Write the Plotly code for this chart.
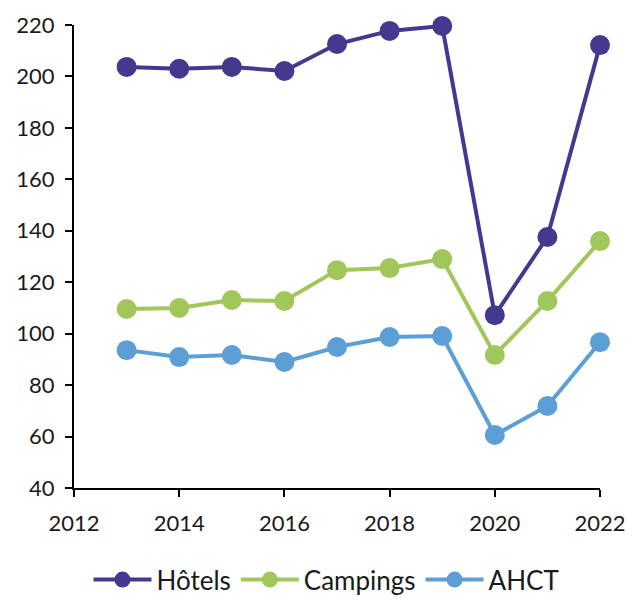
import plotly.graph_objects as go

years = [2013, 2014, 2015, 2016, 2017, 2018, 2019, 2020, 2021, 2022]
hotels = [203.7, 203.0, 203.7, 202.1, 212.6, 217.7, 219.6, 107.2, 137.6, 212.2]
campings = [109.6, 110.0, 113.1, 112.7, 124.7, 125.5, 129.0, 91.7, 112.7, 136.0]
ahct = [93.6, 90.9, 91.7, 89.0, 94.8, 98.7, 99.1, 60.6, 71.9, 96.7]

series = [
    ("Hôtels", hotels, "#433a8f"),
    ("Campings", campings, "#a1c75a"),
    ("AHCT", ahct, "#5b9fd6"),
]

fig = go.Figure()
for name, vals, color in series:
    fig.add_trace(go.Scatter(
        x=years, y=vals, name=name, mode="lines+markers",
        line=dict(color=color, width=4),
        marker=dict(color=color, size=20),
        cliponaxis=False,
    ))

font_family = "Lato, 'DejaVu Sans', sans-serif"
fig.update_layout(
    width=636, height=600,
    margin=dict(l=74, r=36, t=25, b=112, autoexpand=False),
    plot_bgcolor="white", paper_bgcolor="white",
    font=dict(family=font_family, size=22, color="#1a1a1a"),
    showlegend=True,
    legend=dict(orientation="h", x=0.48, xanchor="center", y=-0.198, yanchor="middle",
                font=dict(size=26), itemwidth=58),
)
fig.update_xaxes(
    range=[2012, 2022], tickmode="linear", tick0=2012, dtick=2,
    showgrid=False, zeroline=False,
    showline=True, linecolor="black", linewidth=2,
    ticks="outside", ticklen=7, tickwidth=2, tickcolor="black",
    ticklabelstandoff=8,
)
fig.update_yaxes(
    range=[40, 220], tickmode="linear", tick0=40, dtick=20,
    showgrid=False, zeroline=False,
    showline=True, linecolor="black", linewidth=2,
    ticks="outside", ticklen=7, tickwidth=2, tickcolor="black",
    ticklabelstandoff=6,
)

fig.write_html("out.html")
